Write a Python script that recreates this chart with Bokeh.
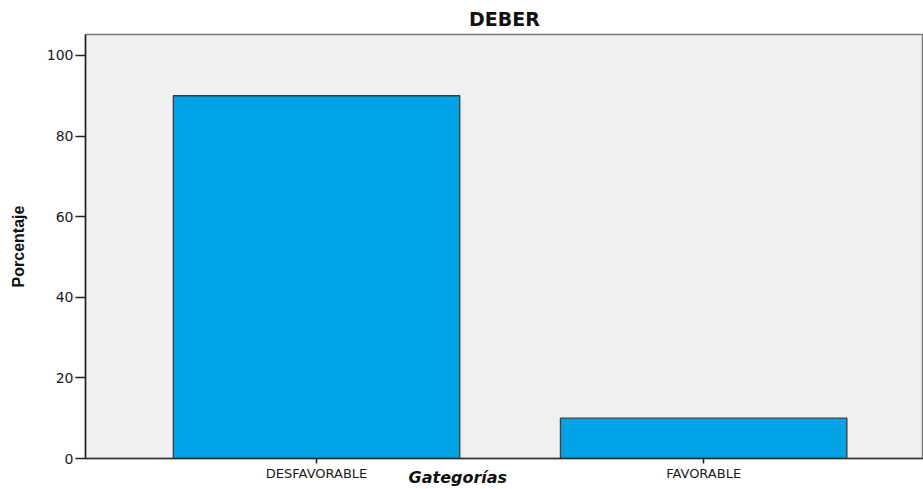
from bokeh.plotting import figure
from bokeh.models import Range1d, FixedTicker, LinearAxis
from bokeh.embed import file_html
from bokeh.resources import INLINE

# Data
categories = ["DESFAVORABLE", "FAVORABLE"]
percentages = [90.0, 10.0]
y_ticks = [0, 20, 40, 60, 80, 100]
x_title = "Gategorías"
y_title = "Porcentaje"
chart_title = "DEBER"

# category positions on the axis (1, 2, ...)
x_pos = [i + 1 for i in range(len(categories))]

p = figure(
    x_range=Range1d(0.403, 2.568),
    y_range=Range1d(0, 105.2),
    width=923, height=489,
    output_backend="svg", toolbar_location=None,
    title=chart_title,
    min_border_left=85, min_border_right=0,
    min_border_top=0, min_border_bottom=31,
)

p.background_fill_color = "#F0F0F0"
p.border_fill_color = "white"
p.outline_line_color = "#7a7a7a"
p.outline_line_width = 1.5
p.xgrid.grid_line_color = None
p.ygrid.grid_line_color = None

p.title.align = "center"
p.title.text_font = "DejaVu Sans"
p.title.text_font_size = "19px"
p.title.text_font_style = "bold"
p.title.text_color = "#111111"

p.vbar(x=x_pos, top=percentages, width=0.74,
       fill_color="#00A3E6", line_color="#3c3c3c", line_width=1.3)

# Y axis
p.yaxis.ticker = FixedTicker(ticks=y_ticks)
p.yaxis.minor_tick_line_color = None
p.yaxis.major_tick_out = 10
p.yaxis.major_tick_in = 0
p.yaxis.major_tick_line_color = "#222222"
p.yaxis.major_tick_line_width = 1.5
p.yaxis.axis_line_color = "#222222"
p.yaxis.axis_line_width = 1.5
p.yaxis.major_label_text_font = "DejaVu Sans"
p.yaxis.major_label_text_font_size = "14px"
p.yaxis.major_label_text_color = "#1a1a1a"
p.yaxis.major_label_standoff = 2
p.yaxis.axis_label = y_title
p.yaxis.axis_label_text_font = "Liberation Sans"
p.yaxis.axis_label_text_font_size = "16px"
p.yaxis.axis_label_text_font_style = "bold"
p.yaxis.axis_label_text_color = "#111111"
p.yaxis.axis_label_standoff = 17

# X axis (category labels from the categories list)
p.xaxis.ticker = FixedTicker(ticks=x_pos)
p.xaxis.major_label_overrides = {x: c for x, c in zip(x_pos, categories)}
p.xaxis.minor_tick_line_color = None
p.xaxis.major_tick_out = 5
p.xaxis.major_tick_in = 0
p.xaxis.major_tick_line_color = "#222222"
p.xaxis.major_tick_line_width = 1.5
p.xaxis.axis_line_color = "#333333"
p.xaxis.axis_line_width = 1.5
p.xaxis.major_label_text_font = "DejaVu Sans"
p.xaxis.major_label_text_font_size = "13px"
p.xaxis.major_label_text_color = "#1a1a1a"
p.xaxis.major_label_standoff = 2

# Category axis title, placed left of center as in the reference,
# drawn as the single label of a second, line-less bottom axis
title_at = x_pos[0] + 0.365
ax2 = LinearAxis(
    ticker=FixedTicker(ticks=[title_at]),
    major_label_overrides={title_at: x_title},
    axis_line_color=None,
    major_tick_line_color=None,
    minor_tick_line_color=None,
    major_tick_out=0, major_tick_in=0,
    minor_tick_out=0, minor_tick_in=0,
    major_label_standoff=-16,
    major_label_text_font="DejaVu Sans",
    major_label_text_font_size="16px",
    major_label_text_font_style="bold italic",
    major_label_text_color="#111111",
)
p.add_layout(ax2, "below")

open("out.html", "w").write(file_html(p, INLINE))
